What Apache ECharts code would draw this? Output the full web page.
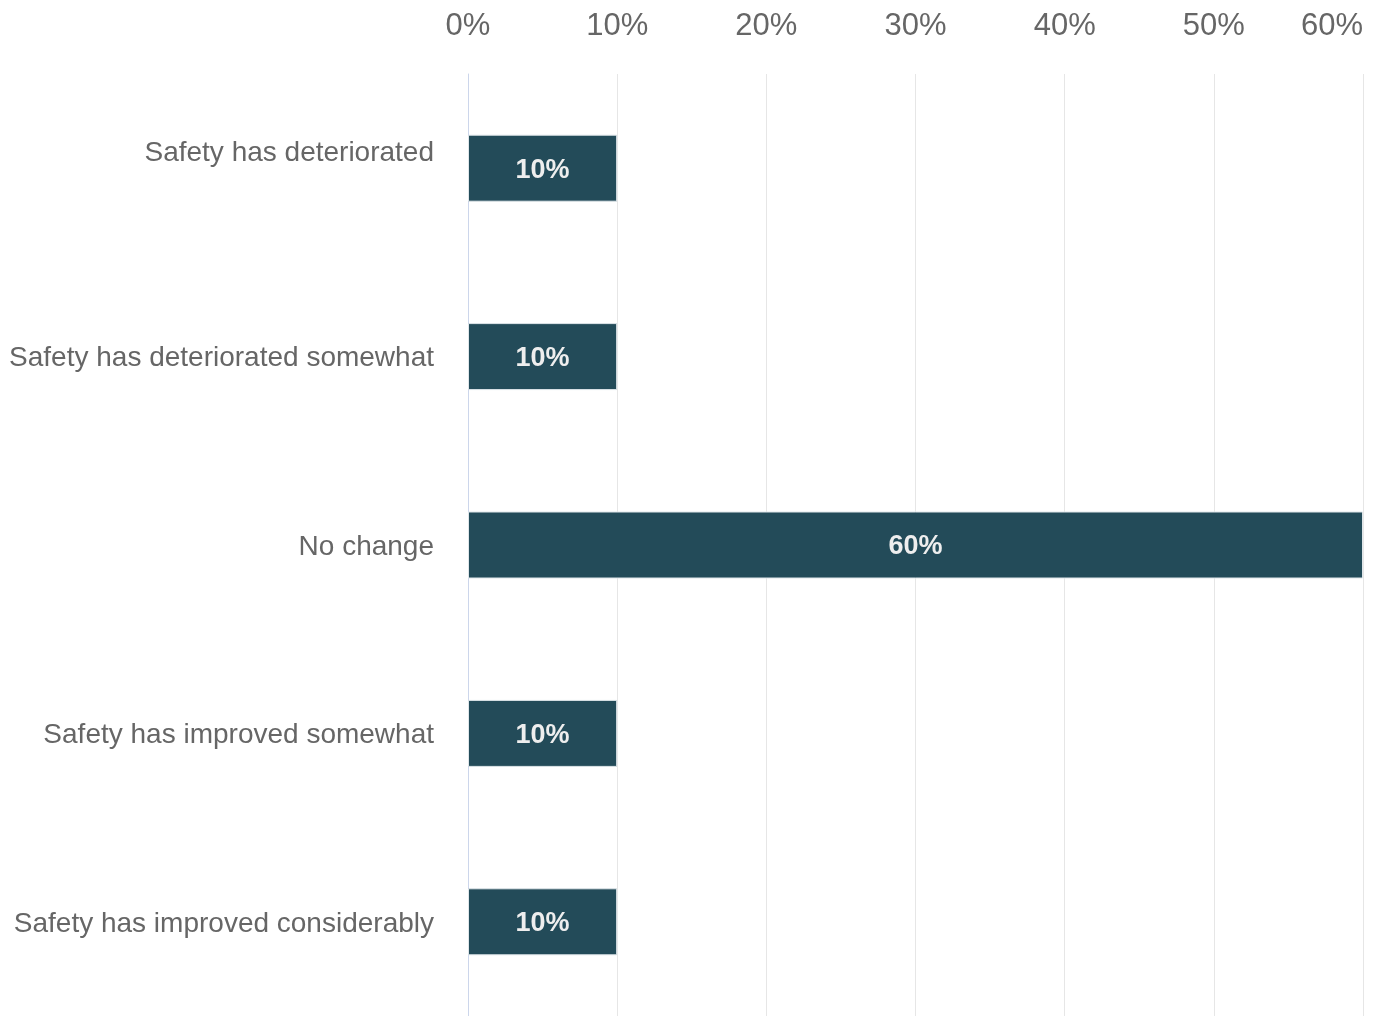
<!DOCTYPE html>
<html lang="en">
<head>
    <meta charset="UTF-8">
    <title>Safety perception</title>
    <style>
        html, body { margin: 0; padding: 0; background: #fff; }
        #main { width: 1377px; height: 1016px; }
    </style>
    <script src="https://cdn.jsdelivr.net/npm/echarts@6/dist/echarts.min.js"></script>
</head>
<body>
<div id="main"></div>
<script type="text/javascript">
    // chart data
    var categories = [
        'Safety has deteriorated',
        'Safety has deteriorated somewhat',
        'No change',
        'Safety has improved somewhat',
        'Safety has improved considerably'
    ];
    var values = [10, 10, 60, 10, 10];
    var tickMin = 0, tickMax = 60, tickStep = 10;

    var myChart = echarts.init(document.getElementById('main'));
    var font = 'Liberation Sans, Arial, sans-serif';
    var option = {
        animation: false,
        grid: { left: 468, right: 14, top: 74, bottom: -4, containLabel: false },
        xAxis: {
            type: 'value',
            position: 'top',
            min: tickMin,
            max: tickMax,
            interval: tickStep,
            axisLine: { show: false },
            axisTick: { show: false },
            splitLine: { show: true, lineStyle: { color: '#e6e6e6', width: 1 } },
            axisLabel: {
                formatter: '{value}%',
                color: '#666666',
                fontFamily: font,
                fontSize: 31,
                margin: 32,
                alignMaxLabel: 'right'
            }
        },
        yAxis: {
            type: 'category',
            inverse: true,
            data: categories,
            axisLine: { show: true, lineStyle: { color: '#ccd6eb', width: 1 } },
            axisTick: { show: false },
            axisLabel: {
                color: '#666666',
                fontFamily: font,
                fontSize: 28,
                margin: 34,
                // the first label sits a bit above its bar in the original
                formatter: function (v, i) {
                    return i === 0 ? '{up|' + v + '}' : '{dn|' + v + '}';
                },
                rich: {
                    up: {
                        color: '#666666',
                        fontFamily: font,
                        fontSize: 28,
                        padding: [0, 0, 30, 0]
                    },
                    dn: {
                        color: '#666666',
                        fontFamily: font,
                        fontSize: 28,
                        padding: [4, 0, 0, 0]
                    }
                }
            }
        },
        series: [{
            type: 'bar',
            data: values,
            barWidth: 67,
            itemStyle: { color: '#234b59', borderColor: '#dfe6ea', borderWidth: 1 },
            label: {
                show: true,
                position: 'inside',
                offset: [0, 2],
                formatter: '{c}%',
                color: '#eeeeee',
                fontWeight: 'bold',
                fontFamily: font,
                fontSize: 27
            }
        }]
    };
    myChart.setOption(option);
</script>
</body>
</html>
